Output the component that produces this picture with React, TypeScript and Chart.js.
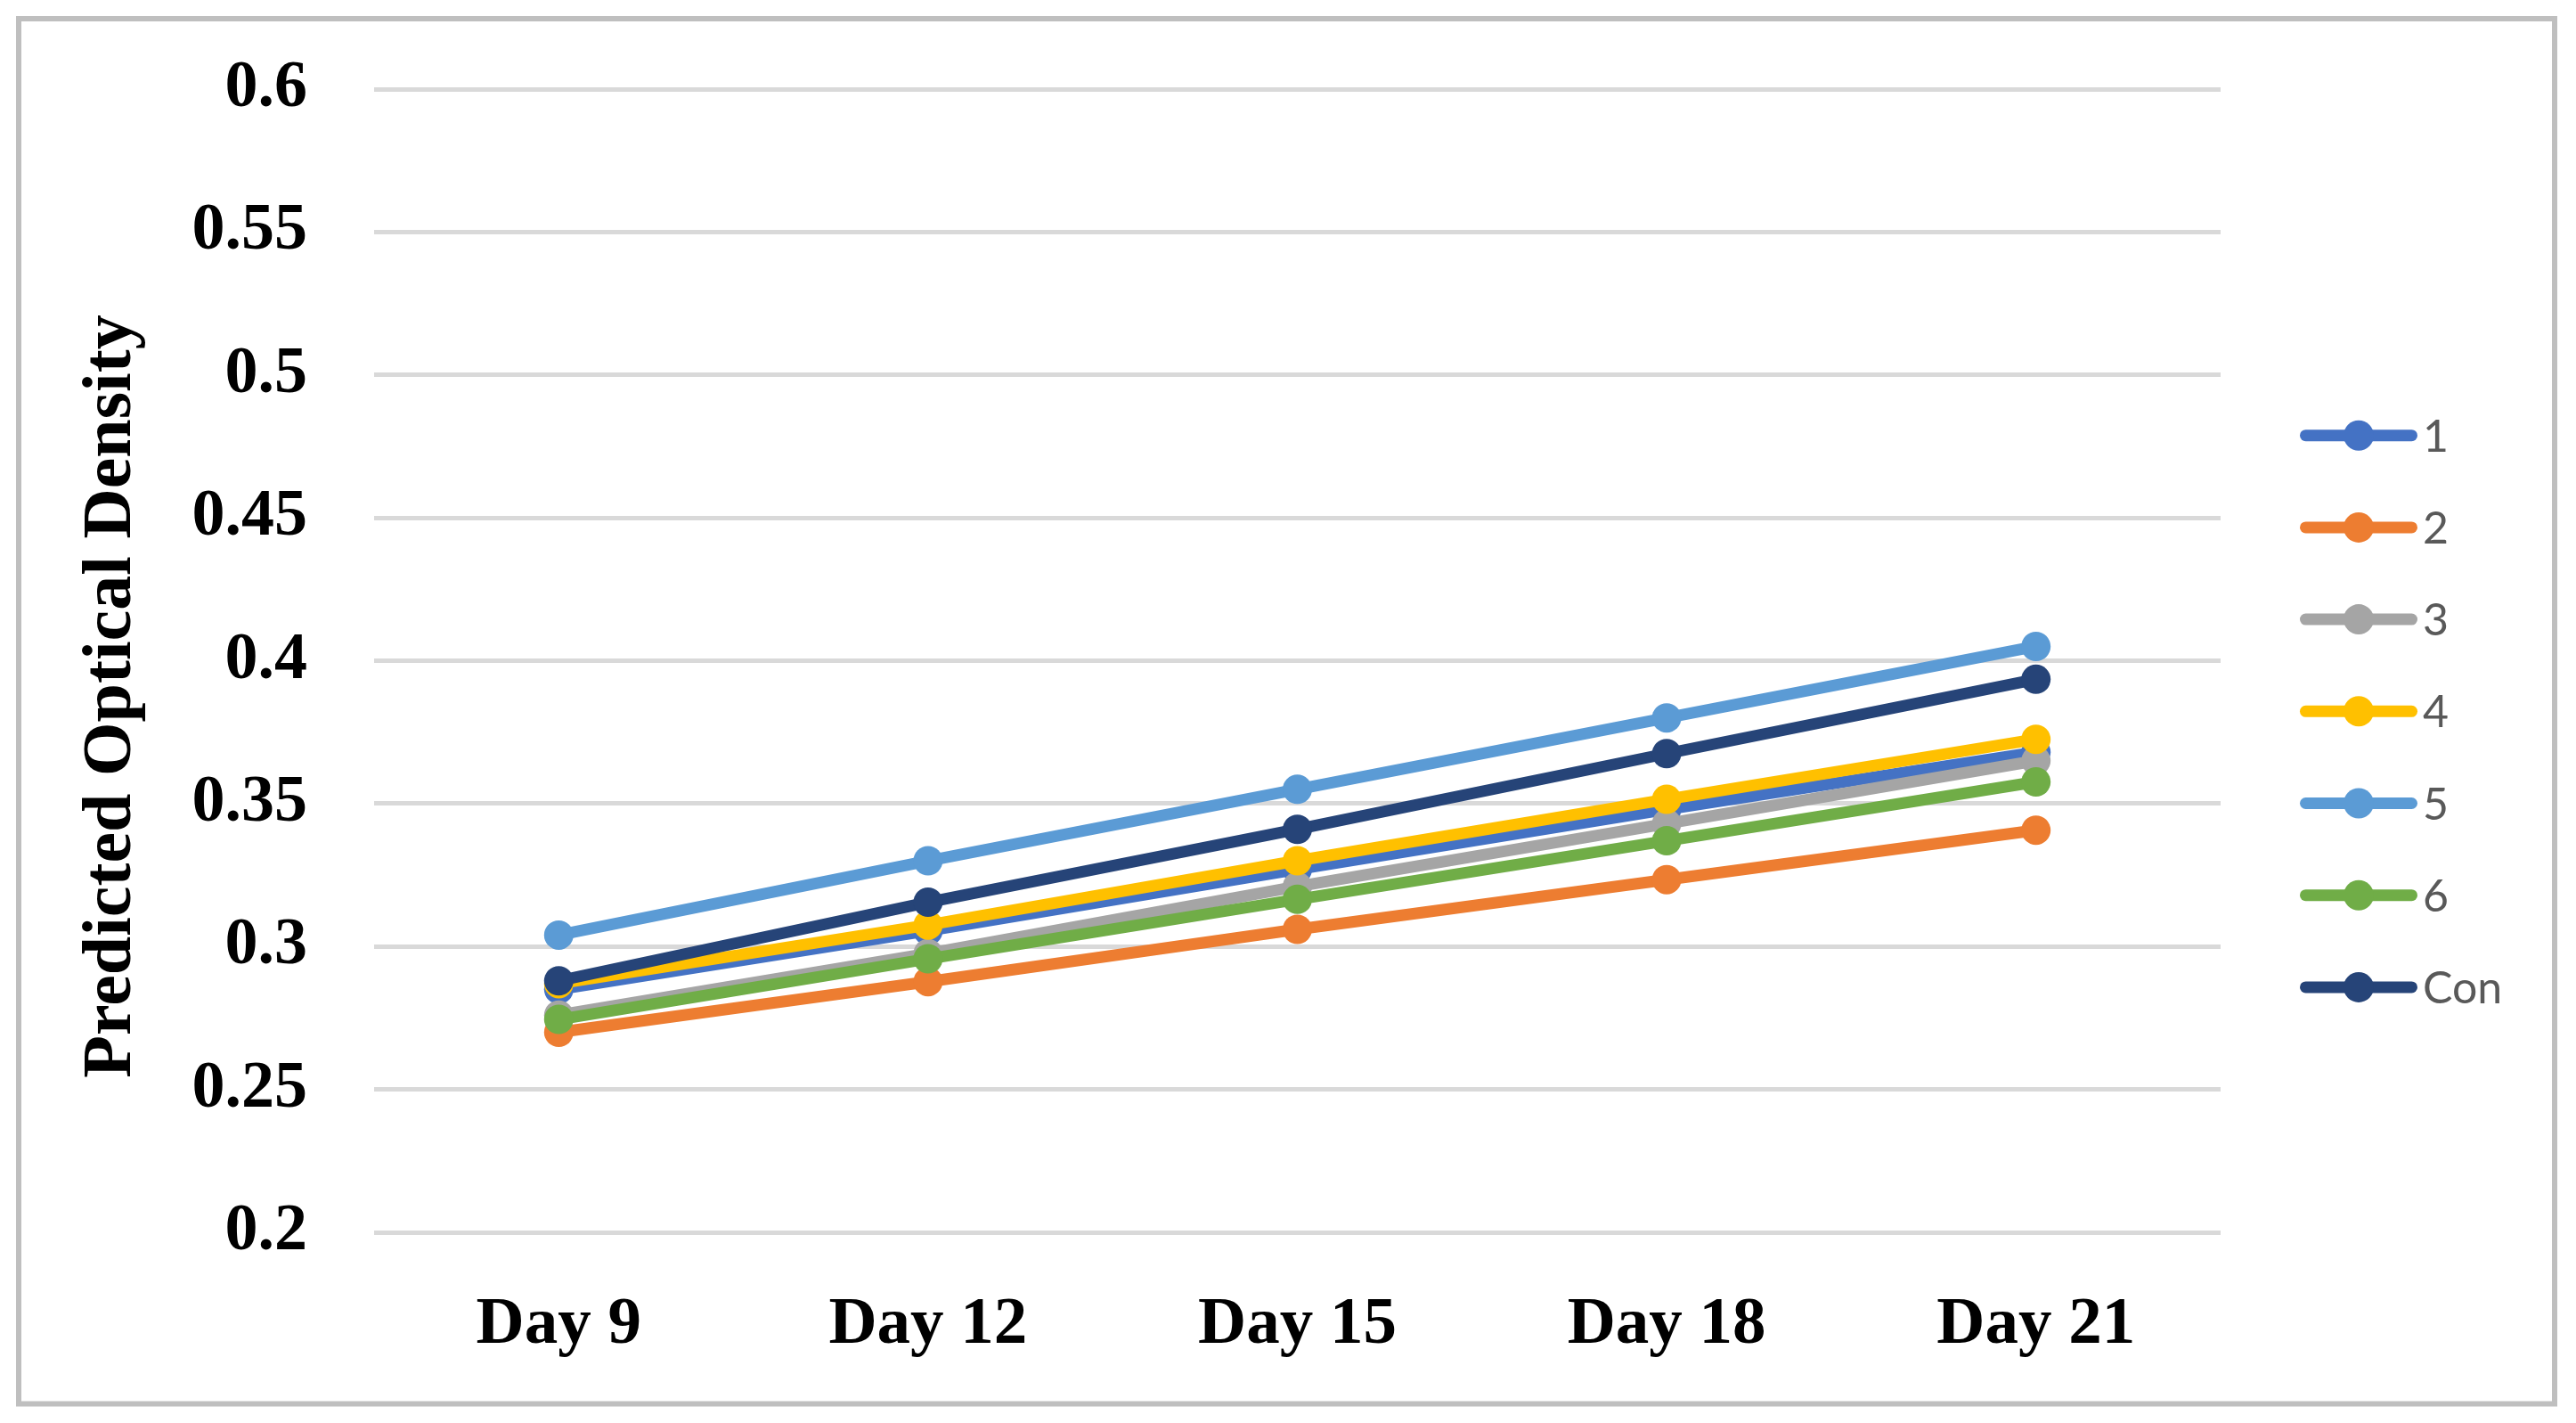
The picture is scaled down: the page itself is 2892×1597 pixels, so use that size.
import React, { useEffect, useRef } from 'react';
import { Chart, registerables } from 'chart.js';

Chart.register(...registerables);

const categories = ['Day 9', 'Day 12', 'Day 15', 'Day 18', 'Day 21'];
const seriesLabels = ['1', '2', '3', '4', '5', '6', 'Con'];
const series1 = [0.285, 0.3055, 0.327, 0.348, 0.368];
const series2 = [0.27, 0.2877, 0.306, 0.3234, 0.3407];
const series3 = [0.276, 0.2975, 0.321, 0.343, 0.365];
const series4 = [0.287, 0.3075, 0.33, 0.3515, 0.3725];
const series5 = [0.304, 0.33, 0.355, 0.38, 0.405];
const series6 = [0.2745, 0.2957, 0.3165, 0.337, 0.3576];
const seriesCon = [0.288, 0.3155, 0.341, 0.3675, 0.3935];
const seriesColors = ['#4472C4', '#ED7D31', '#A5A5A5', '#FFC000', '#5B9BD5', '#70AD47', '#264478'];
const yMin = 0.2;
const yMax = 0.6;
const yStep = 0.05;
const yTitle = 'Predicted Optical Density';

const W = 2892;
const H = 1597;

const framePlugin = {
  id: 'frame',
  beforeDraw(chart: any) {
    const ctx = chart.ctx;
    ctx.save();
    ctx.fillStyle = '#ffffff';
    ctx.fillRect(0, 0, chart.width, chart.height);
    ctx.strokeStyle = '#bfbfbf';
    ctx.lineWidth = 6;
    ctx.strokeRect(21, 21, 2847, 1554.5);
    ctx.restore();
  },
};

const yTitlePlugin = {
  id: 'yTitle',
  afterDraw(chart: any) {
    const ctx = chart.ctx;
    const area = chart.chartArea;
    ctx.save();
    ctx.translate(126, (area.top + area.bottom) / 2 + 40);
    ctx.rotate(-Math.PI / 2);
    ctx.fillStyle = '#000000';
    ctx.font = 'bold 78px "Liberation Serif"';
    ctx.textAlign = 'center';
    ctx.textBaseline = 'middle';
    ctx.fillText(yTitle, 0, 0);
    ctx.restore();
  },
};

const legendPlugin = {
  id: 'sideLegend',
  afterDraw(chart: any) {
    const ctx = chart.ctx;
    const ds = chart.data.datasets;
    ctx.save();
    ds.forEach((d: any, i: number) => {
      const y = 488.7 + i * 103.2;
      ctx.strokeStyle = d.borderColor;
      ctx.lineWidth = 13;
      ctx.lineCap = 'round';
      ctx.beginPath();
      ctx.moveTo(2588.5, y);
      ctx.lineTo(2707.5, y);
      ctx.stroke();
      ctx.fillStyle = d.borderColor;
      ctx.beginPath();
      ctx.arc(2648, y, 17, 0, Math.PI * 2);
      ctx.fill();
      ctx.fillStyle = '#595959';
      ctx.font = '50px Lato';
      ctx.textBaseline = 'middle';
      ctx.textAlign = 'left';
      ctx.fillText(d.label, 2720, y + 2);
    });
    ctx.restore();
  },
};

export default function App() {
  const ref = useRef<HTMLCanvasElement | null>(null);

  useEffect(() => {
    if (!ref.current) return;
    const all = [series1, series2, series3, series4, series5, series6, seriesCon];
    const chart = new Chart(ref.current, {
      type: 'line',
      data: {
        labels: categories,
        datasets: all.map((vals, i) => ({
          label: seriesLabels[i],
          data: vals,
          borderColor: seriesColors[i],
          backgroundColor: seriesColors[i],
          pointBackgroundColor: seriesColors[i],
          pointBorderColor: seriesColors[i],
          borderWidth: 13,
          pointRadius: 16.5,
          pointBorderWidth: 0,
          pointHoverRadius: 16.5,
          borderCapStyle: 'round',
          borderJoinStyle: 'round',
          tension: 0,
          fill: false,
          order: all.length - 1 - i,
        })),
      },
      options: {
        responsive: false,
        devicePixelRatio: 1,
        animation: false,
        events: [],
        layout: { padding: { left: 62, top: 100, right: 399, bottom: 0 } },
        plugins: {
          legend: { display: false },
          tooltip: { enabled: false },
        },
        scales: {
          x: {
            type: 'category',
            offset: true,
            grid: { display: false, drawTicks: false },
            border: { display: false },
            ticks: {
              padding: 60,
              color: '#000000',
              font: { family: 'Liberation Serif', size: 75, weight: 'bold' },
              maxRotation: 0,
              autoSkip: false,
            },
            afterFit(scale: any) {
              scale.height = 214;
              scale.paddingLeft = 0;
              scale.paddingRight = 0;
            },
          },
          y: {
            min: yMin,
            max: yMax,
            grid: { color: '#d9d9d9', lineWidth: 5, drawTicks: false },
            border: { display: false },
            ticks: {
              stepSize: yStep,
              padding: 75,
              color: '#000000',
              font: { family: 'Liberation Serif', size: 74, weight: 'bold' },
              callback: (v: any) => String(Math.round(Number(v) * 100) / 100),
            },
            title: { display: false },
            afterFit(scale: any) {
              scale.width = 358;
              scale.paddingTop = 0;
              scale.paddingBottom = 0;
            },
          },
        },
      },
      plugins: [framePlugin, yTitlePlugin, legendPlugin],
    } as any);
    return () => chart.destroy();
  }, []);

  return (
    <div style={{ position: 'absolute', left: 0, top: 0, width: W, height: H, background: '#ffffff' }}>
      <canvas ref={ref} width={W} height={H} style={{ display: 'block', width: W, height: H }} />
    </div>
  );
}
